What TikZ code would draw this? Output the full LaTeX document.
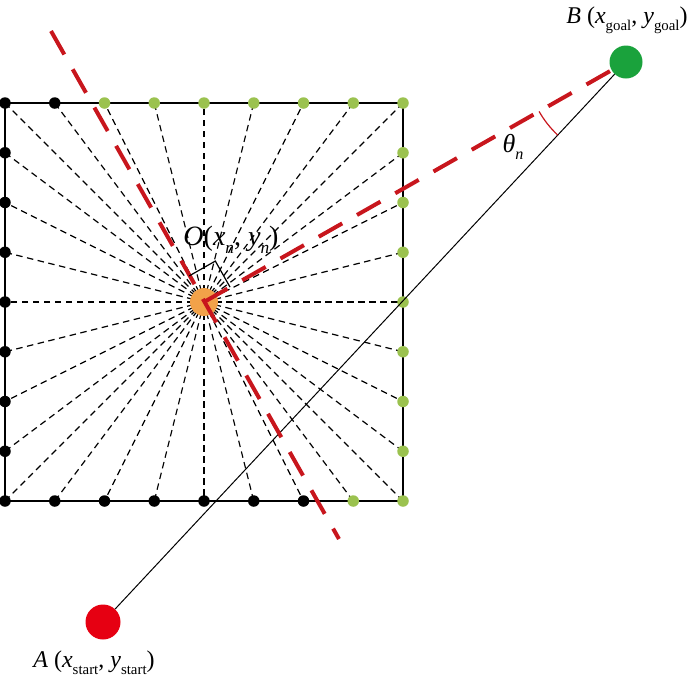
\documentclass[tikz,border=0pt]{standalone}
\usepackage{fontspec}
\setmainfont{Liberation Serif}
\usetikzlibrary{calc,angles,backgrounds}
\definecolor{dotgreen}{HTML}{9BC24F}
\definecolor{goalgreen}{HTML}{1AA23C}
\definecolor{startred}{HTML}{E60012}
\definecolor{orangeO}{HTML}{F2A249}
\definecolor{dashred}{HTML}{C8161D}
\newcommand{\lowsub}[1]{\raisebox{-0.28em}{\scalebox{0.62}{#1}}}
\begin{document}
\begin{tikzpicture}[x=1pt,y=-1pt,
  blackdot/.style={circle,fill=black,minimum size=11.5pt,inner sep=0pt},
  greendot/.style={circle,fill=dotgreen,minimum size=11.5pt,inner sep=0pt},
  spoke/.style={black,line width=1.2pt,dash pattern=on 6.5pt off 4.5pt},
  reddash/.style={dashred,line width=4pt,dash pattern=on 27pt off 17pt},
  bigdot/.style={circle,inner sep=0pt},
  lbl/.style={inner sep=0pt,font=\fontsize{24}{26}\selectfont}]
\useasboundingbox (0,0) rectangle (700,683);
% perimeter dots
\foreach \i in {0,...,8}{
  \pgfmathsetmacro\xx{5+49.75*\i}
  \ifnum\i<2 \def\st{blackdot}\else\def\st{greendot}\fi
  \node[\st] (t\i) at (\xx,103) {};
  \ifnum\i<7 \def\st{blackdot}\else\def\st{greendot}\fi
  \node[\st] (b\i) at (\xx,501) {};
}
\foreach \j in {1,...,7}{
  \pgfmathsetmacro\yy{103+49.75*\j}
  \node[blackdot] (l\j) at (5,\yy) {};
  \node[greendot] (r\j) at (403,\yy) {};
}
\node[bigdot,fill=orangeO,minimum size=28pt] (O) at (204,302) {};
\node[bigdot,fill=goalgreen,minimum size=33pt] (B) at (626,62) {};
\node[bigdot,fill=startred,minimum size=35pt] (A) at (103,622) {};
\coordinate (P1) at (51,31);
\coordinate (P2) at (339,539);
\coordinate (Oc) at (204,302);
\coordinate (Bc) at (626,62);
\coordinate (Ac) at (103,622);
\coordinate (ra1) at ($(Oc)!30pt!(P1)$);
\coordinate (ra3) at ($(Oc)!30pt!(Bc)$);
\coordinate (ra2) at ($(ra1)+(ra3)-(Oc)$);
\begin{scope}[on background layer]
  \foreach \n in {t0,t1,t2,t3,t4,t5,t6,t7,t8,b0,b1,b2,b3,b4,b5,b6,b7,b8,l1,l2,l3,l4,l5,l6,l7,r1,r2,r3,r4,r5,r6,r7}
    \draw[spoke] (O.center) -- (\n.center);
  \draw[black,line width=1.6pt] (t0.center) -- (t8.center) -- (b8.center) -- (b0.center) -- cycle;
\end{scope}
\draw[black,line width=1pt] (A) -- (B);
\draw[reddash] (P1) -- (P2);
\draw[reddash] (O.center) -- (B);
\draw[black,line width=1.2pt] (ra1) -- (ra2) -- (ra3);
\path pic[draw=dashred,line width=1.2pt,angle radius=100pt] {angle=Oc--Bc--Ac};
% labels
\node[lbl,font=\fontsize{28}{30}\selectfont] (lO) at (231,240) {\textit{O}(\textit{x\lowsub{n}}, \textit{y\lowsub{n}})};
\node[lbl] (lB) at (627,20) {\textit{B} (\textit{x}\lowsub{goal}, \textit{y}\lowsub{goal})};
\node[lbl] (lA) at (94,663) {\textit{A} (\textit{x}\lowsub{start}, \textit{y}\lowsub{start})};
\node[lbl,font=\fontsize{26}{28}\selectfont] (lth) at (513,147) {\textit{θ\lowsub{n}}};
\end{tikzpicture}
\end{document}
